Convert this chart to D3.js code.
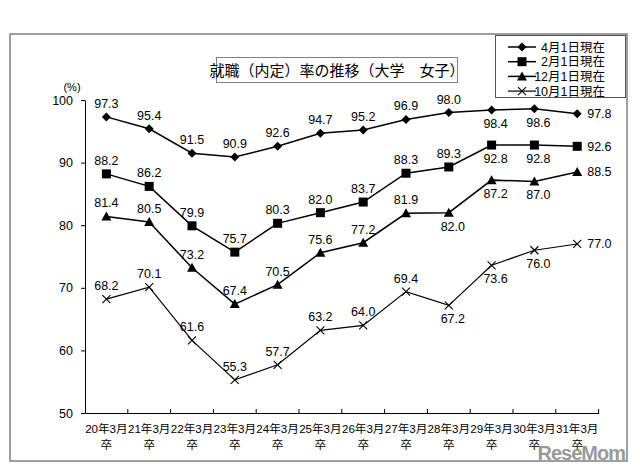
<!DOCTYPE html>
<html><head><meta charset="utf-8">
<script src="https://cdn.jsdelivr.net/npm/d3@7"></script>
<style>
html,body{margin:0;padding:0;background:#fff;}
svg text{font-family:"Liberation Sans","Noto Sans CJK JP",sans-serif;fill:#000;}
</style></head>
<body><svg id="c" width="640" height="467"></svg>
<script>
const categories = ["20年3月","21年3月","22年3月","23年3月","24年3月","25年3月","26年3月","27年3月","28年3月","29年3月","30年3月","31年3月"];
const seriesNames = ["4月1日現在","2月1日現在","12月1日現在","10月1日現在"];
const apr = [97.3,95.4,91.5,90.9,92.6,94.7,95.2,96.9,98.0,98.4,98.6,97.8];
const feb = [88.2,86.2,79.9,75.7,80.3,82.0,83.7,88.3,89.3,92.8,92.8,92.6];
const dec = [81.4,80.5,73.2,67.4,70.5,75.6,77.2,81.9,82.0,87.2,87.0,88.5];
const oct = [68.2,70.1,61.6,55.3,57.7,63.2,64.0,69.4,67.2,73.6,76.0,77.0];
const yTicks = [50,60,70,80,90,100];
// label placement: a = above, b = below, r = right
const aprPos = ["a","a","a","a","a","a","a","a","a","b","b","r"];
const febPos = ["a","a","a","a","a","a","a","a","a","b","b","r"];
const decPos = ["a","a","a","a","a","a","a","a","b","b","b","r"];
const octPos = ["a","a","a","a","a","a","a","a","b","b","b","r"];

const svg = d3.select("#c");
// outer frame
svg.append("rect").attr("x",10).attr("y",34).attr("width",617).attr("height",427)
  .attr("fill","none").attr("stroke","#808080").attr("stroke-width",1.5);

const x = d3.scaleBand().domain(categories).range([85,598.6]).padding(0);
const y = d3.scaleLinear().domain([50,100]).range([413,100]);

// y axis
const ya = svg.append("g").attr("transform","translate(85,0)")
  .call(d3.axisLeft(y).tickValues(yTicks).tickSize(4).tickPadding(8).tickSizeOuter(0));
ya.select(".domain").attr("stroke","#000");
ya.selectAll("text").attr("font-size",12.5).attr("fill","#000");
// x axis
const xa = svg.append("g").attr("transform","translate(0,413)")
  .call(d3.axisBottom(x).tickSize(0).tickSizeOuter(0).tickFormat(""));
xa.select(".domain").attr("stroke","#000");
const bounds = categories.map((c,i)=>x(c)).concat([x.range()[1]]).slice(1);
svg.append("g").selectAll("line").data(bounds).join("line")
  .attr("x1",d=>d).attr("x2",d=>d).attr("y1",413).attr("y2",409).attr("stroke","#000");
const xl = svg.append("g").selectAll("g").data(categories).join("g")
  .attr("transform",d=>`translate(${x(d)+x.bandwidth()/2},0)`);
xl.append("text").attr("y",433).attr("text-anchor","middle").attr("font-size",11.6).text(d=>d);
xl.append("text").attr("y",449).attr("text-anchor","middle").attr("font-size",11.6).text("卒");

svg.append("text").attr("x",72).attr("y",91).attr("text-anchor","middle").attr("font-size",11).text("(%)");

// title
svg.append("rect").attr("x",216.5).attr("y",57.5).attr("width",241).attr("height",25)
  .attr("fill","#fff").attr("stroke","#808080").attr("stroke-width",1);
svg.append("text").attr("x",337).attr("y",76).attr("text-anchor","middle").attr("font-size",15)
  .text("就職（内定）率の推移（大学　女子）");

const series = [
  {name:seriesNames[0], vals:apr, pos:aprPos, m:"diamond"},
  {name:seriesNames[1], vals:feb, pos:febPos, m:"square"},
  {name:seriesNames[2], vals:dec, pos:decPos, m:"triangle"},
  {name:seriesNames[3], vals:oct, pos:octPos, m:"x"}
];
const cx = i => x(categories[i]) + x.bandwidth()/2;
function marker(g, type){
  if(type==="diamond") g.append("path").attr("d","M0,-4.5L4.5,0L0,4.5L-4.5,0Z").attr("fill","#000");
  else if(type==="square") g.append("rect").attr("x",-4.5).attr("y",-4.5).attr("width",9).attr("height",9).attr("fill","#000");
  else if(type==="triangle") g.append("path").attr("d","M0,-5L5,4L-5,4Z").attr("fill","#000");
  else g.append("path").attr("d","M-4,-4L4,4M-4,4L4,-4").attr("stroke","#000").attr("stroke-width",1.1).attr("fill","none");
}
const line = d3.line().x((d,i)=>cx(i)).y(d=>y(d));
series.forEach(s=>{
  svg.append("path").attr("d",line(s.vals)).attr("fill","none").attr("stroke","#000")
    .attr("stroke-width", s.m==="x"?1.2:1.5);
  s.vals.forEach((v,i)=>{
    const g = svg.append("g").attr("transform",`translate(${cx(i)},${y(v)})`);
    marker(g, s.m);
    const p = s.pos[i];
    const t = svg.append("text").attr("font-size",12.5).text(v.toFixed(1));
    if(p==="a") t.attr("x",cx(i)).attr("y",y(v)-9).attr("text-anchor","middle");
    else if(p==="b") t.attr("x",cx(i)+4).attr("y",y(v)+18).attr("text-anchor","middle");
    else t.attr("x",cx(i)+10).attr("y",y(v)+4.5).attr("text-anchor","start");
  });
});

// legend
svg.append("rect").attr("x",495.5).attr("y",35.5).attr("width",130).attr("height",62)
  .attr("fill","#fff").attr("stroke","#555").attr("stroke-width",1);
series.forEach((s,k)=>{
  const ly = 47 + k*14.7;
  svg.append("line").attr("x1",508).attr("x2",536).attr("y1",ly).attr("y2",ly)
    .attr("stroke","#000").attr("stroke-width", s.m==="x"?1.2:1.5);
  const g = svg.append("g").attr("transform",`translate(522,${ly})`);
  marker(g, s.m);
  svg.append("text").attr("x",605).attr("y",ly+4.5).attr("text-anchor","end").attr("font-size",12.5).text(s.name);
});

// watermark
svg.append("text").attr("x",625).attr("y",460).attr("text-anchor","end").attr("font-size",20)
  .attr("font-weight","bold").style("fill","#6e6e6e").attr("opacity",0.7).attr("letter-spacing",-1).text("ReseMom");
</script></body></html>
